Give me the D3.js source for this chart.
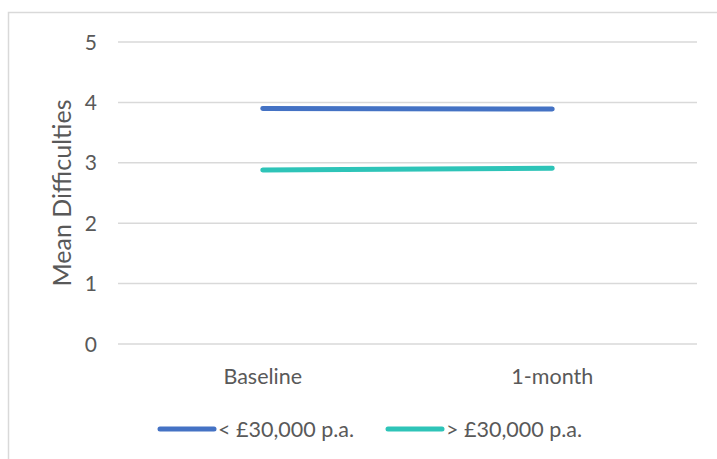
<!DOCTYPE html>
<html>
<head>
<meta charset="utf-8">
<script src="https://cdn.jsdelivr.net/npm/d3@7"></script>
<style>
  html, body { margin: 0; padding: 0; background: #ffffff; }
  svg { display: block; }
  text { font-family: Lato, "Open Sans", sans-serif; fill: #595959; }
</style>
</head>
<body>
<svg id="chart" width="717" height="459"></svg>
<script>
// Mean difficulties by income group, at baseline and after one month
const timepoints = ["Baseline", "1-month"];
const seriesNames = ["< £30,000 p.a.", "> £30,000 p.a."];
const under30k = [3.90, 3.89];
const over30k = [2.88, 2.91];
const yTicks = [0, 1, 2, 3, 4, 5];
const yTitle = "Mean Difficulties";

const seriesColors = ["#4472c4", "#2ec4b8"];
const series = [under30k, over30k];

const svg = d3.select("#chart");

// outer chart frame
svg.append("rect")
  .attr("x", 8.5).attr("y", 12.5)
  .attr("width", 720).attr("height", 460)
  .attr("fill", "none")
  .attr("stroke", "#d9d9d9")
  .attr("stroke-width", 1.5);

const plot = { left: 118, right: 697, top: 42, bottom: 344 };

const x = d3.scaleBand()
  .domain(timepoints)
  .range([plot.left, plot.right])
  .padding(0);

const y = d3.scaleLinear()
  .domain([0, 5])
  .range([plot.bottom, plot.top]);

// horizontal gridlines
svg.append("g")
  .selectAll("line")
  .data(yTicks)
  .join("line")
  .attr("x1", plot.left).attr("x2", plot.right)
  .attr("y1", d => y(d)).attr("y2", d => y(d))
  .attr("stroke", "#d9d9d9")
  .attr("stroke-width", 1.5);

// y tick labels
svg.append("g")
  .selectAll("text")
  .data(yTicks)
  .join("text")
  .attr("x", 97)
  .attr("y", d => y(d))
  .attr("dy", "0.36em")
  .attr("text-anchor", "end")
  .style("font-size", "21px")
  .text(d => d);

// y axis title
svg.append("text")
  .attr("transform", `translate(71, ${(plot.top + plot.bottom) / 2}) rotate(-90)`)
  .attr("text-anchor", "middle")
  .style("font-size", "25px")
  .text(yTitle);

// x category labels
svg.append("g")
  .selectAll("text")
  .data(timepoints)
  .join("text")
  .attr("x", d => x(d) + x.bandwidth() / 2)
  .attr("y", 376)
  .attr("dy", "0.36em")
  .attr("text-anchor", "middle")
  .style("font-size", "21.5px")
  .text(d => d);

// series lines
const line = d3.line()
  .x((d, i) => x(timepoints[i]) + x.bandwidth() / 2)
  .y(d => y(d));

svg.append("g")
  .selectAll("path")
  .data(series)
  .join("path")
  .attr("d", d => line(d))
  .attr("fill", "none")
  .attr("stroke", (d, i) => seriesColors[i])
  .attr("stroke-width", 5)
  .attr("stroke-linecap", "round");

// legend
const legendItems = [
  { name: seriesNames[0], color: seriesColors[0], x0: 160 },
  { name: seriesNames[1], color: seriesColors[1], x0: 388 }
];
const legendY = 429;
const lg = svg.append("g")
  .selectAll("g")
  .data(legendItems)
  .join("g");
lg.append("line")
  .attr("x1", d => d.x0).attr("x2", d => d.x0 + 54)
  .attr("y1", legendY).attr("y2", legendY)
  .attr("stroke", d => d.color)
  .attr("stroke-width", 5)
  .attr("stroke-linecap", "round");
lg.append("text")
  .attr("x", d => d.x0 + 58)
  .attr("y", legendY)
  .attr("dy", "0.36em")
  .style("font-size", "21.5px")
  .text(d => d.name);
</script>
</body>
</html>
